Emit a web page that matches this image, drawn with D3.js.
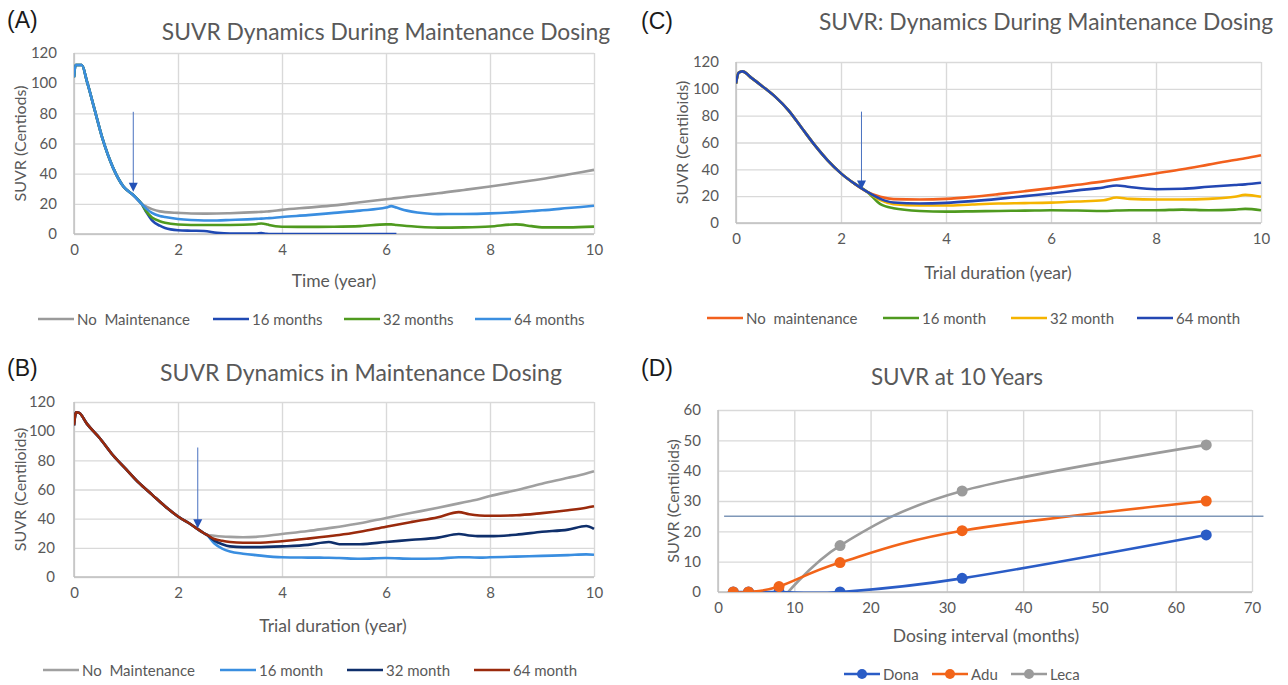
<!DOCTYPE html>
<html>
<head>
<meta charset="utf-8">
<script src="https://cdn.jsdelivr.net/npm/d3@7"></script>
<style>
  body { margin: 0; background: #fff; }
  svg { font-family: Lato, "Open Sans", sans-serif; }
  text { white-space: pre; }
</style>
</head>
<body>
<script>
// ---- panel A : SUVR Dynamics During Maintenance Dosing ----
const aSharedYears = [0, 0.03, 0.15, 0.25, 0.4, 0.55, 0.75, 0.95, 1.15, 1.3];
const aSharedVals  = [104, 112, 112, 101, 82, 63, 44, 31.5, 25.5, 20];
const aTailYears = [1.3, 1.4, 1.5, 1.65, 1.75, 2, 2.25, 2.5, 2.75, 3, 3.5, 3.6, 3.7, 3.75, 4, 4.5, 5, 5.5, 6, 6.1, 6.2, 6.4, 6.6, 6.9, 7, 7.5, 8, 8.5, 8.8, 9, 9.5, 10];
const aNoMaint = [20, 18, 16.5, 15, 14.5, 14, 13.6, 13.5, 13.6, 13.8, 14.5, 14.7, 14.9, 15, 16, 17.5, 19, 21, 23, 23.4, 23.8, 24.6, 25.4, 26.6, 27, 29.2, 31.5, 34, 35.5, 36.5, 39.5, 42.5];
const a16 = [20, 14, 9, 5.5, 4, 2.5, 2.2, 2, 0.8, 0.3, 0.3, 0.6, 0.1, 0, 0, 0, 0, 0, 0, 0, 0, null, null, null, null, null, null, null, null, null, null, null];
const a32 = [20, 14.5, 11, 8.5, 7.5, 6.3, 6, 6, 6, 6, 6.5, 7, 6.5, 6, 4.8, 4.7, 4.8, 5.2, 6.4, 6.4, 6, 5.3, 4.8, 4.3, 4.2, 4.4, 5, 6.4, 5.2, 4.4, 4.4, 4.9];
const a64 = [20, 16.5, 14, 12, 11.3, 10, 9.3, 9, 9, 9.3, 10, 10.2, 10.4, 10.5, 11.3, 12.5, 14, 15.5, 17.5, 18.5, 17.5, 15.5, 14.2, 13.3, 13.2, 13.3, 13.7, 14.5, 15.2, 15.7, 17.2, 18.7];
const aNames = ["No  Maintenance", "16 months", "32 months", "64 months"];

// ---- panel B : SUVR Dynamics in Maintenance Dosing ----
const bSharedYears = [0, 0.04, 0.1, 0.25, 0.5, 0.75, 1, 1.25, 1.5, 1.75, 2, 2.25, 2.5, 2.55];
const bSharedVals  = [104, 113, 112.5, 105, 95, 83.5, 74, 64.5, 56.5, 48.5, 41.5, 36, 30, 29];
const bTailYears = [2.55, 2.7, 2.85, 3, 3.25, 3.5, 4, 4.5, 4.9, 5.1, 5.5, 6, 6.5, 7, 7.4, 7.6, 7.8, 8, 8.5, 9, 9.5, 9.85, 10];
const bNoMaint = [29, 28.3, 27.8, 27.5, 27.3, 27.5, 29.5, 31.5, 33.5, 34.5, 36.8, 40.5, 44, 47.5, 50.5, 52, 53.5, 55.5, 59.5, 64, 68, 71, 72.5];
const b16 = [29, 23, 19.5, 17.5, 16, 15, 13.5, 13.3, 13.2, 13, 12.5, 13, 12.5, 12.7, 13.5, 13.5, 13.3, 13.5, 14, 14.5, 15, 15.5, 15.3];
const b32 = [29, 25, 22.5, 21, 20.5, 20.5, 21, 22, 24, 22.5, 22.5, 24, 25.5, 27, 29.5, 28.5, 28, 28, 29, 31, 32.5, 35, 33];
const b64 = [29, 26, 24.8, 24, 23.5, 23.5, 24.5, 26.3, 28, 28.8, 31, 34.5, 37.8, 41, 44.5, 43, 42.2, 42, 42.3, 43.8, 45.8, 47.5, 48.5];
const bNames = ["No  Maintenance", "16 month", "32 month", "64 month"];

// ---- panel C : SUVR: Dynamics During Maintenance Dosing ----
const cSharedYears = [0, 0.05, 0.12, 0.3, 0.5, 0.75, 1, 1.25, 1.5, 1.75, 2, 2.25, 2.5];
const cSharedVals  = [104, 112, 113, 108, 102, 94, 84, 71, 58, 46.5, 37, 29.5, 23.2];
const cTailYears = [2.5, 2.75, 3, 3.5, 4, 4.5, 5, 5.5, 6, 6.5, 7, 7.25, 7.5, 8, 8.5, 9, 9.5, 9.7, 10];
const cNoMaint = [23.2, 19.5, 17.8, 17.5, 18, 19.5, 21.5, 23.7, 26, 28.5, 31, 32.5, 34, 37, 40, 43.5, 47, 48.2, 50.5];
const c16 = [23.2, 14, 11, 9, 8.5, 8.7, 9, 9.2, 9.5, 9.3, 9, 9.3, 9.5, 9.5, 10, 9.5, 10, 10.5, 9.5];
const c32 = [23.2, 17, 14, 13, 13, 13.8, 14.5, 14.8, 15.2, 16, 17, 19, 18, 17.5, 17.5, 18, 19.5, 21, 19.5];
const c64 = [23.2, 18, 15.3, 14.5, 15, 16.3, 18, 20, 22, 24.3, 26.5, 28, 26.8, 25.2, 25.5, 27, 28.3, 28.8, 30];
const cNames = ["No  maintenance", "16 month", "32 month", "64 month"];

// ---- panel D : SUVR at 10 Years ----
const dIntervals = [2, 4, 8, 16, 32, 64];
const dDona = [0, 0, 0, 0, 4.5, 18.8];
const dAdu  = [0, 0, 1.8, 9.7, 20.2, 30];
const lecaIntervals = [8, 16, 32, 64];
const dLeca = [-3.6, 15.3, 33.3, 48.5];
const dNames = ["Dona", "Adu", "Leca"];
const refLevel = 25;

const textCol = "#595959";
const gridCol = "#d9d9d9";

const svg = d3.select("body").append("svg")
  .attr("width", 1288).attr("height", 685);

let clipId = 0;

function panel(o) {
  const x = d3.scaleLinear().domain(o.xDomain).range([o.left, o.right]);
  const y = d3.scaleLinear().domain(o.yDomain).range([o.bottom, o.top]);
  const g = svg.append("g");
  const w = o.right - o.left, h = o.bottom - o.top;

  // gridlines
  g.append("g").attr("transform", `translate(0,${o.bottom})`)
    .call(d3.axisBottom(x).tickValues(o.xTicks).tickSize(-h).tickFormat(""))
    .call(s => s.select(".domain").remove())
    .selectAll("line").attr("stroke", gridCol).attr("stroke-width", 1.4);
  g.append("g").attr("transform", `translate(${o.left},0)`)
    .call(d3.axisLeft(y).tickValues(o.yTicks).tickSize(-w).tickFormat(""))
    .call(s => s.select(".domain").remove())
    .selectAll("line").attr("stroke", gridCol).attr("stroke-width", 1.4);
  g.append("line").attr("x1", o.left).attr("x2", o.left).attr("y1", o.top).attr("y2", o.bottom)
    .attr("stroke", "#bfbfbf").attr("stroke-width", 1.4);
  g.append("line").attr("x1", o.left).attr("x2", o.right).attr("y1", o.bottom).attr("y2", o.bottom)
    .attr("stroke", "#bfbfbf").attr("stroke-width", 1.4);

  // tick labels
  g.append("g").attr("transform", `translate(0,${o.bottom + 7})`)
    .call(d3.axisBottom(x).tickValues(o.xTicks).tickSize(0).tickFormat(d3.format("d")))
    .call(s => s.select(".domain").remove())
    .selectAll("text").attr("fill", textCol).attr("font-size", 15).attr("font-family", "Lato");
  g.append("g").attr("transform", `translate(${o.left - o.yPad},0)`)
    .call(d3.axisLeft(y).tickValues(o.yTicks).tickSize(0).tickFormat(d3.format("d")))
    .call(s => s.select(".domain").remove())
    .selectAll("text").attr("fill", textCol).attr("font-size", 15).attr("font-family", "Lato");

  // titles
  g.append("text").attr("x", o.titleX).attr("y", o.titleY).attr("text-anchor", "middle")
    .attr("dominant-baseline", "central").attr("fill", textCol).attr("font-size", o.titleSize)
    .text(o.title);
  g.append("text").attr("x", o.labelX).attr("y", o.labelY).attr("dominant-baseline", "central")
    .attr("fill", "#1a1a1a").attr("font-size", 23).attr("font-family", "Liberation Sans").text(o.label);
  g.append("text").attr("x", o.xTitleX).attr("y", o.xTitleY)
    .attr("text-anchor", "middle").attr("dominant-baseline", "central")
    .attr("fill", textCol).attr("font-size", 17.5).text(o.xTitle);
  g.append("text").attr("transform", `translate(${o.yTitleX},${(o.top + o.bottom) / 2}) rotate(-90)`)
    .attr("text-anchor", "middle").attr("dominant-baseline", "central")
    .attr("fill", textCol).attr("font-size", 16).text(o.yTitle);

  // clip for series
  const id = "clip" + (clipId++);
  svg.append("clipPath").attr("id", id).append("rect")
    .attr("x", o.left).attr("y", o.top - 2).attr("width", w + 2).attr("height", h + 2);
  const plot = g.append("g").attr("clip-path", `url(#${id})`);
  return { x, y, g, plot };
}

function timeSeries(p, sharedYears, sharedVals, tailYears, tails, colors) {
  const line = d3.line().defined(d => d[1] != null).curve(d3.curveMonotoneX)
    .x(d => p.x(d[0])).y(d => p.y(d[1]));
  tails.forEach((vals, i) => {
    const pts = sharedYears.map((t, j) => [t, sharedVals[j]])
      .concat(tailYears.slice(1).map((t, j) => [t, vals[j + 1]]));
    p.plot.append("path").datum(pts).attr("d", line)
      .attr("fill", "none").attr("stroke", colors[i]).attr("stroke-width", 2.6)
      .attr("stroke-linejoin", "round");
  });
}

function arrow(p, t, yFrom, yTo) {
  const xs = p.x(t), y1 = p.y(yFrom), y2 = p.y(yTo);
  p.g.append("line").attr("x1", xs).attr("x2", xs).attr("y1", y1).attr("y2", y2 - 8)
    .attr("stroke", "#4a72c0").attr("stroke-width", 1);
  p.g.append("path").attr("d", `M${xs - 4.5},${y2 - 9} L${xs + 4.5},${y2 - 9} L${xs},${y2} Z`)
    .attr("fill", "#2452b8");
}

function legend(cy, items, colors, lineXs, markers) {
  const lg = svg.append("g");
  items.forEach((name, i) => {
    const x0 = lineXs[i];
    lg.append("line").attr("x1", x0).attr("x2", x0 + 36).attr("y1", cy).attr("y2", cy)
      .attr("stroke", colors[i]).attr("stroke-width", 2.6);
    if (markers) lg.append("circle").attr("cx", x0 + 18).attr("cy", cy).attr("r", 5).attr("fill", colors[i]);
    lg.append("text").attr("x", x0 + 39).attr("y", cy).attr("dominant-baseline", "central")
      .attr("fill", textCol).attr("font-size", 15).text(name);
  });
}

const yrTicks = [0, 2, 4, 6, 8, 10];
const suvrTicks = [0, 20, 40, 60, 80, 100, 120];

// A
const colA = ["#9a9a9a", "#1f49b3", "#4f9a1f", "#3a8ee0"];
const pA = panel({ left: 74, right: 594, top: 53, bottom: 234, xDomain: [0, 10], yDomain: [0, 120],
  xTicks: yrTicks, yTicks: suvrTicks, yPad: 14,
  title: "SUVR Dynamics During Maintenance Dosing", titleX: 386, titleY: 31, titleSize: 22.8,
  label: "(A)", labelX: 7, labelY: 20, xTitle: "Time (year)", xTitleX: 334, xTitleY: 280,
  yTitle: "SUVR (Centiods)", yTitleX: 19 });
timeSeries(pA, aSharedYears, aSharedVals, aTailYears, [aNoMaint, a16, a32, a64], colA);
arrow(pA, 1.14, 81, 28);
legend(319, aNames, colA, [38, 213, 344, 475]);

// B
const colB = ["#a0a0a0", "#3a8ee0", "#0f2f6b", "#9a2a0c"];
const pB = panel({ left: 74, right: 594, top: 402, bottom: 577, xDomain: [0, 10], yDomain: [0, 120],
  xTicks: yrTicks, yTicks: suvrTicks, yPad: 16,
  title: "SUVR Dynamics in Maintenance Dosing", titleX: 361, titleY: 372, titleSize: 23,
  label: "(B)", labelX: 7, labelY: 368, xTitle: "Trial duration (year)", xTitleX: 333, xTitleY: 625,
  yTitle: "SUVR (Centiloids)", yTitleX: 19 });
timeSeries(pB, bSharedYears, bSharedVals, bTailYears, [bNoMaint, b16, b32, b64], colB);
arrow(pB, 2.38, 88.8, 33.5);
legend(670, bNames, colB, [43, 220, 347, 474]);

// C
const colC = ["#f2601d", "#4f9a1f", "#f5b400", "#2347b3"];
const pC = panel({ left: 736, right: 1261, top: 62, bottom: 223, xDomain: [0, 10], yDomain: [0, 120],
  xTicks: yrTicks, yTicks: suvrTicks, yPad: 14,
  title: "SUVR: Dynamics During Maintenance Dosing", titleX: 1046, titleY: 21, titleSize: 22.8,
  label: "(C)", labelX: 641, labelY: 21, xTitle: "Trial duration (year)", xTitleX: 998, xTitleY: 272,
  yTitle: "SUVR (Centiloids)", yTitleX: 681 });
timeSeries(pC, cSharedYears, cSharedVals, cTailYears, [cNoMaint, c16, c32, c64], colC);
arrow(pC, 2.39, 83, 25);
legend(318, cNames, colC, [707, 883, 1011, 1137]);

// D
const colD = ["#2a5cc6", "#f26419", "#9b9b9b"];
const pD = panel({ left: 718, right: 1252, top: 410, bottom: 592, xDomain: [0, 70], yDomain: [0, 60],
  xTicks: d3.range(0, 71, 10), yTicks: d3.range(0, 61, 10), yPad: 14,
  title: "SUVR at 10 Years", titleX: 957, titleY: 376, titleSize: 22.5,
  label: "(D)", labelX: 641, labelY: 368, xTitle: "Dosing interval (months)", xTitleX: 986, xTitleY: 635,
  yTitle: "SUVR (Centiloids)", yTitleX: 672 });
pD.g.append("line").attr("x1", pD.x(0.8)).attr("x2", pD.x(71.5))
  .attr("y1", pD.y(refLevel)).attr("y2", pD.y(refLevel))
  .attr("stroke", "#7f97b8").attr("stroke-width", 1.5);
const smooth = d3.line().curve(d3.curveCardinal.tension(0)).x(d => pD.x(d[0])).y(d => pD.y(d[1]));
const dSeries = [
  { xs: lecaIntervals, ys: dLeca, c: colD[2] },
  { xs: dIntervals, ys: dDona, c: colD[0] },
  { xs: dIntervals, ys: dAdu, c: colD[1] }
];
dSeries.forEach(s => {
  const pts = s.xs.map((v, i) => [v, s.ys[i]]);
  pD.plot.append("path").datum(pts).attr("d", smooth)
    .attr("fill", "none").attr("stroke", s.c).attr("stroke-width", 2.6);
});
dSeries.forEach(s => {
  const pts = s.xs.map((v, i) => [v, s.ys[i]]);
  pD.plot.selectAll(null).data(pts).enter().append("circle")
    .attr("cx", d => pD.x(d[0])).attr("cy", d => pD.y(d[1])).attr("r", 5.5).attr("fill", s.c);
});
legend(674, dNames, colD, [844, 932, 1011], true);
</script>
</body>
</html>
